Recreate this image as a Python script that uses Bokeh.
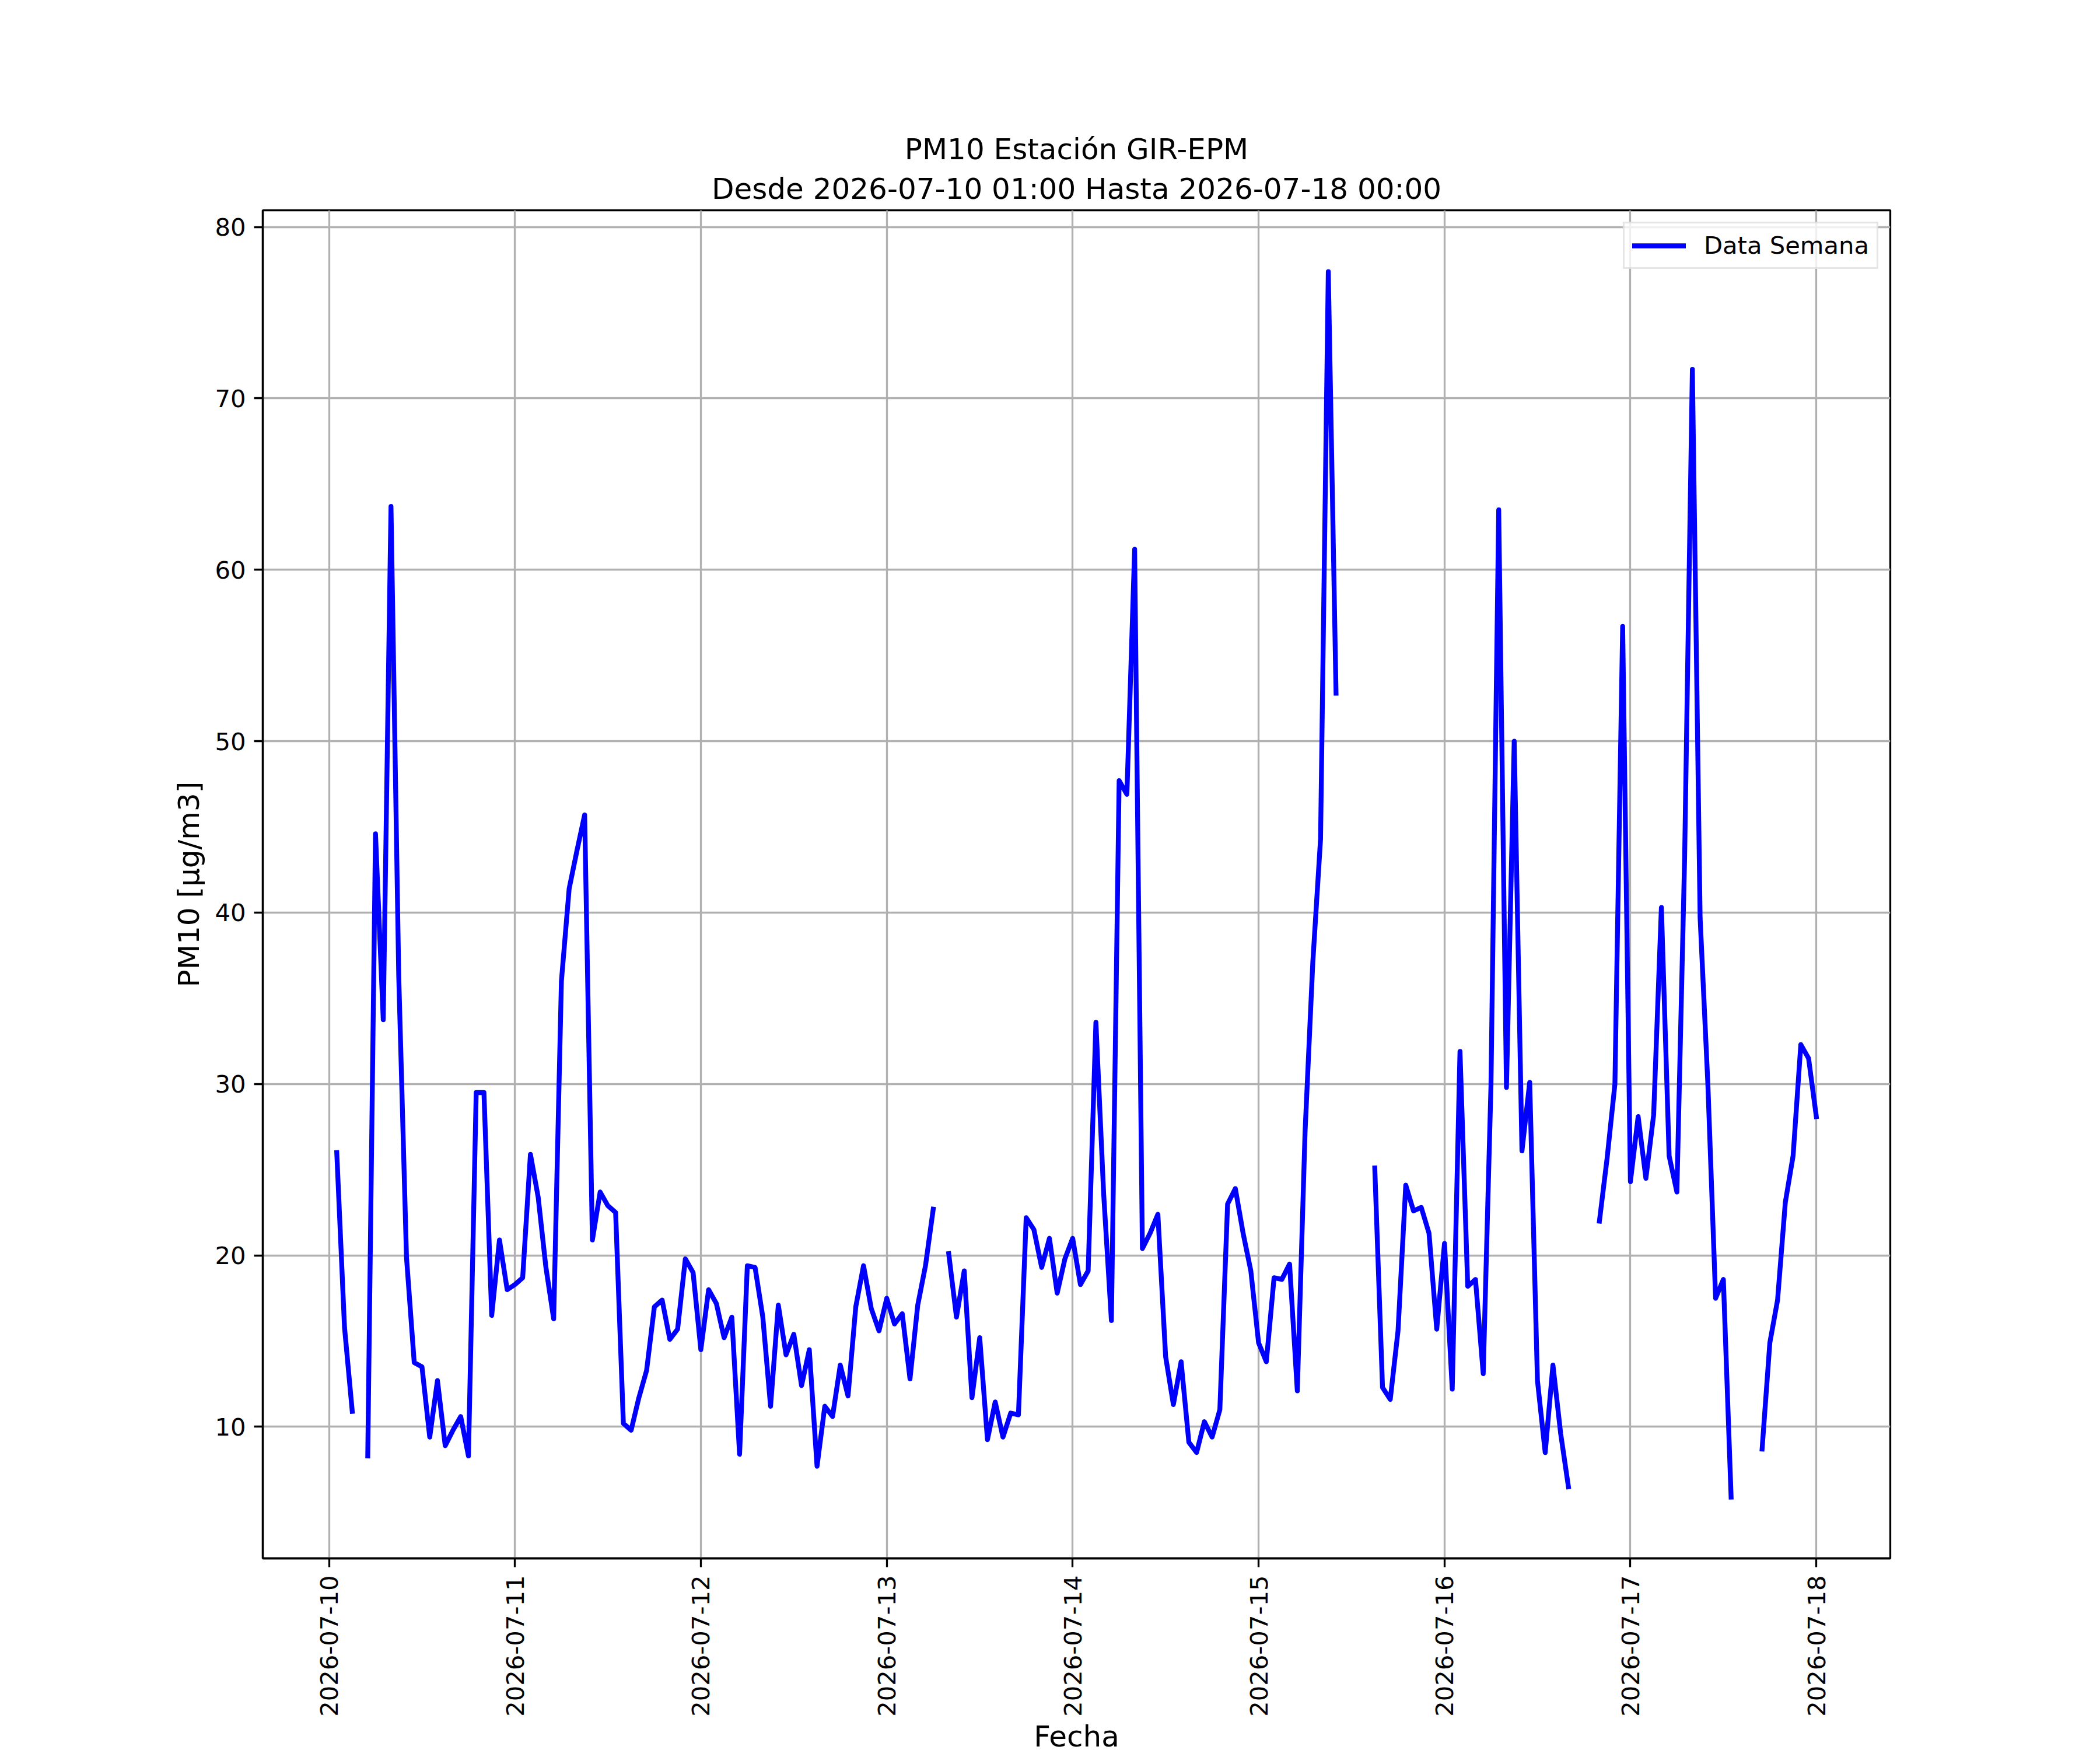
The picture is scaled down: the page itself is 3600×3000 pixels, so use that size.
import math
import numpy as np
import pandas as pd
from bokeh.plotting import figure
from bokeh.models import (Range1d, FixedTicker, DatetimeTickFormatter, Title,
                          ColumnDataSource, Legend, LegendItem)
from bokeh.embed import file_html
from bokeh.resources import INLINE

nan = float("nan")

# Hourly PM10 values, 2026-07-10 01:00 .. 2026-07-18 00:00 (24 per day)
pm10_d10 = [26.0, 15.8, 10.9, nan, 8.3, 44.6, 33.75, 63.7, 36.3, 19.9, 13.75, 13.5,
            9.4, 12.7, 8.9, 9.8, 10.6, 8.3, 29.5, 29.5, 16.5, 20.9, 18.0, 18.3]
pm10_d11 = [18.7, 25.9, 23.4, 19.3, 16.3, 36.0, 41.4, 43.6, 45.7, 20.9, 23.7, 22.9,
            22.5, 10.2, 9.8, 11.7, 13.3, 17.0, 17.4, 15.1, 15.7, 19.8, 19.0, 14.5]
pm10_d12 = [18.0, 17.2, 15.2, 16.4, 8.4, 19.4, 19.3, 16.4, 11.2, 17.1, 14.2, 15.4,
            12.4, 14.5, 7.7, 11.2, 10.6, 13.6, 11.8, 17.0, 19.4, 16.9, 15.6, 17.5]
pm10_d13 = [16.0, 16.6, 12.8, 17.1, 19.4, 22.7, nan, 20.1, 16.4, 19.1, 11.7, 15.2,
            9.25, 11.45, 9.4, 10.8, 10.7, 22.2, 21.5, 19.3, 21.0, 17.8, 19.8, 21.0]
pm10_d14 = [18.3, 19.1, 33.6, 23.6, 16.2, 47.7, 46.9, 61.2, 20.4, 21.3, 22.4, 14.1,
            11.3, 13.8, 9.1, 8.5, 10.3, 9.4, 11.0, 23.0, 23.9, 21.3, 19.1, 14.9]
pm10_d15 = [13.8, 18.7, 18.6, 19.5, 12.1, 27.2, 37.1, 44.3, 77.4, 52.8, nan, nan,
            nan, nan, 25.1, 12.3, 11.6, 15.6, 24.1, 22.6, 22.8, 21.3, 15.7, 20.7]
pm10_d16 = [12.2, 31.9, 18.2, 18.6, 13.1, 29.9, 63.5, 29.8, 50.0, 26.1, 30.1, 12.7,
            8.5, 13.6, 9.6, 6.5, nan, nan, nan, 22.0, 25.7, 30.0, 56.7, 24.3]
pm10_d17 = [28.1, 24.5, 28.2, 40.3, 25.8, 23.7, 43.2, 71.7, 39.7, 30.0, 17.5, 18.6,
            5.9, nan, nan, nan, 8.7, 14.9, 17.4, 23.1, 25.8, 32.3, 31.5, 28.1]

tick_labels = ["2026-07-10", "2026-07-11", "2026-07-12", "2026-07-13", "2026-07-14",
               "2026-07-15", "2026-07-16", "2026-07-17", "2026-07-18"]
y_ticks = [10, 20, 30, 40, 50, 60, 70, 80]

title_line1 = "PM10 Estación GIR-EPM"
title_line2 = "Desde 2026-07-10 01:00 Hasta 2026-07-18 00:00"
series_name = "Data Semana"

values = pm10_d10 + pm10_d11 + pm10_d12 + pm10_d13 + pm10_d14 + pm10_d15 + pm10_d16 + pm10_d17
times = pd.date_range("2026-07-10 01:00", periods=len(values), freq="h")

FONT = "DejaVu Sans"
LW = 3.3

t0, t1 = times[0].to_pydatetime(), times[-1].to_pydatetime()
pad = (t1 - t0) * 0.05
vals = np.array(values, dtype=float)
vmin, vmax = np.nanmin(vals), np.nanmax(vals)
vpad = (vmax - vmin) * 0.05

p = figure(x_axis_type="datetime", output_backend="svg", toolbar_location=None,
           frame_width=2790, frame_height=2311,
           min_border_left=450, min_border_top=360, min_border_right=344, min_border_bottom=10,
           x_range=Range1d(t0 - pad, t1 + pad),
           y_range=Range1d(vmin - vpad, vmax + vpad))
p.title = None

src = ColumnDataSource(dict(t=times, v=vals))
r = p.line("t", "v", source=src, line_color="#0000ff", line_width=8.3,
           line_join="round", line_cap="square")

tick_ms = [pd.Timestamp(s).value / 1e6 for s in tick_labels]
p.xaxis.ticker = FixedTicker(ticks=tick_ms, minor_ticks=[])
fmt = "%Y-%m-%d"
p.xaxis.formatter = DatetimeTickFormatter(milliseconds=fmt, seconds=fmt, minsec=fmt,
                                          minutes=fmt, hourmin=fmt, hours=fmt, days=fmt,
                                          months=fmt, years=fmt)
p.xaxis.major_label_orientation = math.pi / 2
p.yaxis.ticker = FixedTicker(ticks=y_ticks, minor_ticks=[])

p.xaxis.axis_label = "Fecha"
p.yaxis.axis_label = "PM10 [μg/m3]"

for ax in (p.xaxis, p.yaxis):
    ax.axis_line_width = LW
    ax.axis_line_color = "black"
    ax.major_tick_line_width = LW
    ax.major_tick_line_color = "black"
    ax.major_tick_out = 15
    ax.major_tick_in = 0
    ax.minor_tick_out = 0
    ax.minor_tick_in = 0
    ax.major_label_text_font = FONT
    ax.major_label_text_font_size = "41.7px"
    ax.major_label_text_color = "black"
    ax.major_label_standoff = 14
    ax.axis_label_text_font = FONT
    ax.axis_label_text_font_size = "50px"
    ax.axis_label_text_font_style = "normal"
    ax.axis_label_text_color = "black"
p.xaxis.axis_label_standoff = 2
p.yaxis.axis_label_standoff = 12

p.grid.grid_line_color = "#b0b0b0"
p.grid.grid_line_width = LW
p.outline_line_color = "black"
p.outline_line_width = LW
p.background_fill_color = "white"
p.border_fill_color = "white"

legend = Legend(items=[LegendItem(label=series_name, renderers=[r])],
                location="top_right", margin=20, padding=13,
                glyph_width=92, glyph_height=40, label_standoff=31,
                label_text_font=FONT, label_text_font_size="41.7px",
                label_text_color="black",
                border_line_color="#cccccc", border_line_width=LW,
                background_fill_alpha=0.8)
p.add_layout(legend, "center")

t2 = Title(text=title_line2, align="center", text_font=FONT, text_font_size="50px",
           text_font_style="normal", text_color="black", standoff=16,
           text_line_height=0.8)
t1_ = Title(text=title_line1, align="center", text_font=FONT, text_font_size="50px",
            text_font_style="normal", text_color="black", standoff=0,
            text_line_height=0.8)
p.add_layout(t2, "above")
p.add_layout(t1_, "above")

open("out.html", "w").write(file_html(p, INLINE))
